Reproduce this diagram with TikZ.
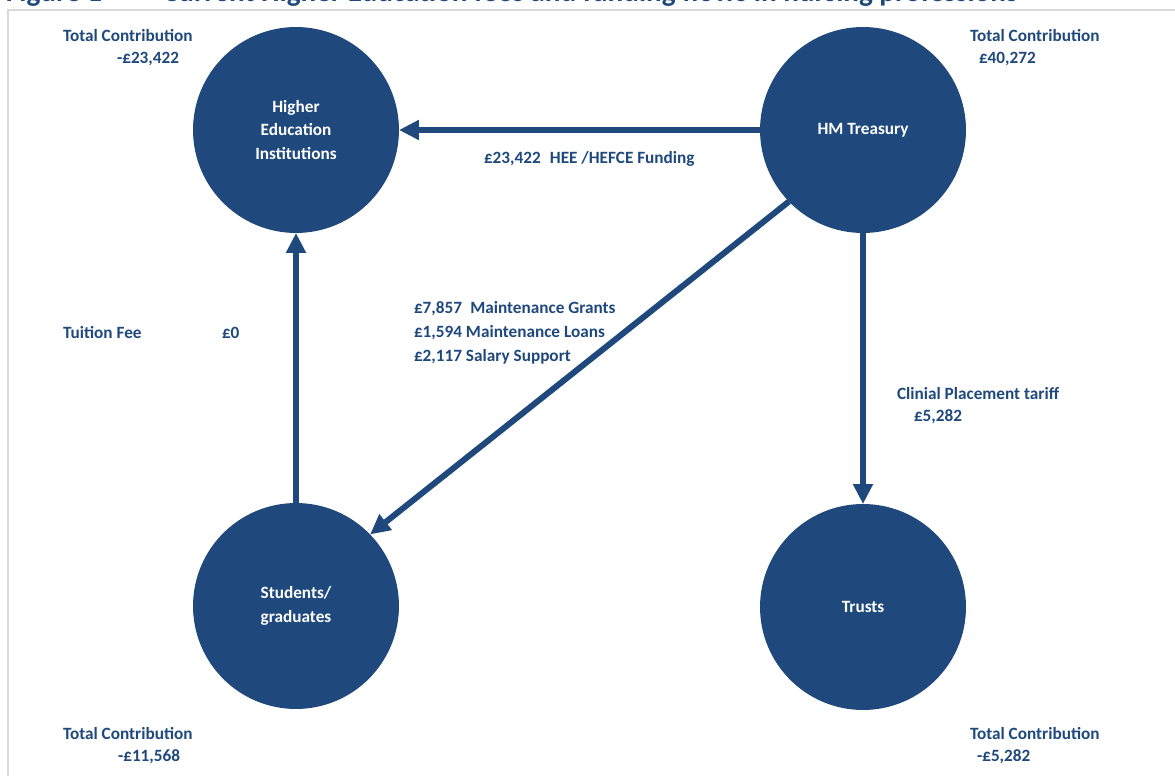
\documentclass[tikz,border=0pt]{standalone}
\usepackage{fontspec}
\setmainfont{Carlito}
\usetikzlibrary{arrows.meta}
\definecolor{fundblue}{HTML}{1F497D}
\definecolor{framegray}{HTML}{D9D9D9}

\begin{document}
\begin{tikzpicture}[x=0.02cm, y=-0.02cm,
  every node/.style={font=\fontsize{9.8}{13.6}\selectfont\bfseries, text=fundblue, inner sep=0pt, outer sep=0pt},
  party/.style={circle, fill=fundblue, text=white, minimum size=4.12cm, align=center},
  amount/.style={anchor=west},
  titletext/.style={anchor=base west, font=\fontsize{16.6}{20}\selectfont\bfseries},
  flow/.style={draw=fundblue, line width=0.12cm, -{Triangle[length=0.4cm, width=0.38cm]}}]
\useasboundingbox (0,0) rectangle (1175,776);
\clip (0,0) rectangle (1175,776);
\draw[framegray, line width=0.04cm] (8,800) -- (8,10.5) -- (1200,10.5);
\node[titletext] (fig) at (6,2) {Figure 1};
\node[titletext] (title) at (163,2) {Current Higher Education fees and funding flows in nursing professions};

\node[party] (hei) at (296,130) {Higher\\Education\\Institutions};
\node[party] (hmt) at (863,130) {HM Treasury};
\node[party] (stu) at (296,606) {Students/\\graduates};
\node[party] (trusts) at (863,607) {Trusts};

\draw[flow] (hmt.west) -- (hei.east);
\draw[flow] (stu.north) -- (hei.south);
\draw[flow] (hmt.south) -- (trusts.north);
\draw[flow] (hmt.224) -- (stu.44);

\node[amount] (heitotal) at (63,36) {Total Contribution};
\node[amount] (heisum) at (117,59) {-£23,422};
\node[amount] (hmttotal) at (970,36) {Total Contribution};
\node[amount] (hmtsum) at (979,59) {£40,272};
\node[amount] (stutotal) at (63,734) {Total Contribution};
\node[amount] (stusum) at (118,757) {-£11,568};
\node[amount] (trusttotal) at (970,734) {Total Contribution};
\node[amount] (trustsum) at (977,757) {-£5,282};

\node[amount] (hefce) at (484,159) {£23,422\hspace{0.3em} HEE /HEFCE Funding};
\node[amount] (fee) at (63,333) {Tuition Fee};
\node[amount] (feesum) at (222,333) {£0};
\node[amount, align=left] (maint) at (414,333) {£7,857\hspace{0.25em} Maintenance Grants\\£1,594 Maintenance Loans\\£2,117 Salary Support};
\node[amount] (tariff) at (897,394) {Clinial Placement tariff};
\node[amount] (tariffsum) at (914,417) {£5,282};
\end{tikzpicture}
\end{document}
